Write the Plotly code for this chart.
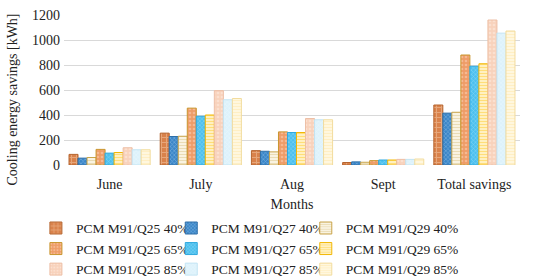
import plotly.graph_objects as go

categories = ["June", "July", "Aug", "Sept", "Total savings"]
series_names = [
    "PCM M91/Q25 40%", "PCM M91/Q27 40%", "PCM M91/Q29 40%",
    "PCM M91/Q25 65%", "PCM M91/Q27 65%", "PCM M91/Q29 65%",
    "PCM M91/Q25 85%", "PCM M91/Q27 85%", "PCM M91/Q29 85%",
]
q25_40 = [85, 255, 115, 20, 480]
q27_40 = [55, 228, 110, 25, 415]
q29_40 = [60, 230, 105, 22, 422]
q25_65 = [125, 455, 265, 35, 880]
q27_65 = [95, 390, 260, 40, 790]
q29_65 = [100, 400, 260, 40, 810]
q25_85 = [138, 595, 372, 45, 1160]
q27_85 = [122, 522, 362, 45, 1055]
q29_85 = [122, 532, 362, 48, 1072]
values = [q25_40, q27_40, q29_40, q25_65, q27_65, q29_65, q25_85, q27_85, q29_85]
y_ticks = [0, 200, 400, 600, 800, 1000, 1200]

# legend column for each series (one legend per PCM type, as in the reference layout)
legend_ids = ["legend", "legend2", "legend3"] * 3

styles = [
    dict(bg="#D9824B", fg="#F6CBAA", line="#B5652F", shape="+", size=5, sol=0.35),
    dict(bg="#3A86C8", fg="#A6CEEE", line="#2E6FA8", shape="x", size=3, sol=0.4),
    dict(bg="#FFFDF5", fg="#D6BC76", line="#C9A44A", shape="-", size=3, sol=0.55),
    dict(bg="#EE9C68", fg="#FBD6BE", line="#C9962E", shape=".", size=4, sol=0.35),
    dict(bg="#4CC0EE", fg="#B4E6F9", line="#2FA8DE", shape="x", size=3, sol=0.35),
    dict(bg="#FFF6D8", fg="#FFC61A", line="#F2B705", shape="-", size=3, sol=0.5),
    dict(bg="#F8D2BC", fg="#FDEDE3", line="#EDBFA6", shape=".", size=4, sol=0.35),
    dict(bg="#DDF2FB", fg="#F3FBFE", line="#C3E4F3", shape="x", size=3, sol=0.3),
    dict(bg="#FFF8E2", fg="#FFE6A6", line="#F2DC9E", shape="-", size=3, sol=0.45),
]

fig = go.Figure()
for name, vals, st, lg in zip(series_names, values, styles, legend_ids):
    fig.add_trace(go.Bar(
        name=name, x=categories, y=vals, legend=lg,
        marker=dict(
            color=st["bg"],
            line=dict(color=st["line"], width=1),
            pattern=dict(shape=st["shape"], fgcolor=st["fg"], bgcolor=st["bg"],
                         size=st["size"], solidity=st["sol"], fillmode="overlay"),
        ),
    ))

FF = "Liberation Serif"
TXT = "#222222"


def legend_cfg(x):
    return dict(
        orientation="v", xref="container", x=x, xanchor="left",
        yref="container", y=0.232, yanchor="top",
        font=dict(size=13.5, family=FF, color=TXT),
        itemwidth=30, tracegroupgap=0, bgcolor="rgba(0,0,0,0)",
    )


fig.update_layout(
    width=536, height=277,
    margin=dict(l=64, r=16, t=15, b=112, autoexpand=False),
    paper_bgcolor="white", plot_bgcolor="white",
    font=dict(family=FF, size=14, color=TXT),
    barmode="group", bargap=0.11, bargroupgap=0.0,
    showlegend=True,
    legend=legend_cfg(0.067),
    legend2=legend_cfg(0.3195),
    legend3=legend_cfg(0.5705),
    xaxis=dict(
        showgrid=False, showline=False, ticks="", zeroline=False,
        tickfont=dict(size=14, family=FF, color=TXT), ticklabelstandoff=9,
        title=dict(text="Months", font=dict(size=14, family=FF, color=TXT), standoff=8),
    ),
    yaxis=dict(
        range=[0, 1200], tickvals=y_ticks, showgrid=True, gridcolor="#D9D9D9",
        gridwidth=1, zeroline=False, showline=False, ticks="",
        tickfont=dict(size=14, family=FF, color=TXT), ticklabelstandoff=3,
    ),
    annotations=[dict(
        text="Cooling energy savings [kWh]", textangle=-90,
        xref="paper", yref="paper", x=-0.113, y=0.44, xanchor="center", yanchor="middle",
        showarrow=False, font=dict(size=14, family=FF, color=TXT),
    )],
)

fig.write_html("out.html", config={"displayModeBar": False},
               post_script="document.body.style.margin='0';")
